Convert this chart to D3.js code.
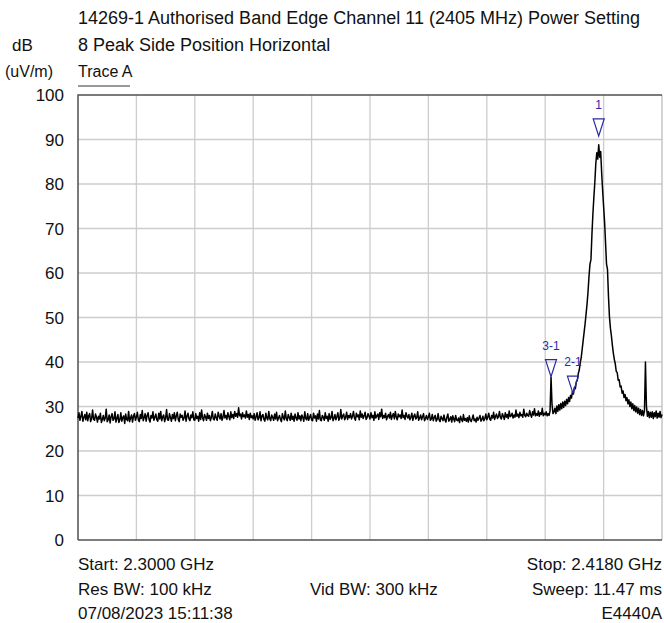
<!DOCTYPE html>
<html><head><meta charset="utf-8">
<script src="https://cdn.jsdelivr.net/npm/d3@7"></script>
<style>
body{margin:0;background:#fff}
svg{display:block}
text{font-family:"Liberation Sans",Arial,Helvetica,sans-serif;fill:#111}
</style>
</head><body>
<svg id="c" width="664" height="623"></svg>
<script>
// ---------- data ----------
const startGHz = 2.3;
const stopGHz = 2.418;
const yTicks = [0,10,20,30,40,50,60,70,80,90,100];
const titleLines = ["14269-1 Authorised Band Edge Channel 11 (2405 MHz) Power Setting",
                    "8 Peak Side Position Horizontal",
                    "Trace A"];
const unitLines = ["dB","(uV/m)"];
const footerLeft = ["Start: 2.3000 GHz","Res BW: 100 kHz","07/08/2023 15:11:38"];
const footerMid = ["","Vid BW: 300 kHz",""];
const footerRight = ["Stop: 2.4180 GHz","Sweep: 11.47 ms","E4440A"];
const markerLabels = ["1","2-1","3-1"];
const markerFreqs = [2.40521, 2.4000, 2.39557];
const markerLevels = [90.8, 33.0, 36.7];
// trace A, 601 sweep points, dB(uV/m)
const traceA = [
27.4,28.6,26.9,27.8,28.9,26.7,27.5,28.2,27.0,28.7,26.8,27.9,28.4,26.6,27.3,29.2,27.1,26.9,28.3,27.6,
26.5,27.8,27.2,28.5,26.4,27.1,28.0,26.8,27.4,29.4,26.6,27.0,28.1,26.3,27.7,28.4,26.9,27.2,28.8,26.5,
27.3,28.2,26.4,27.0,28.6,26.7,27.5,27.9,26.2,28.3,27.1,26.8,28.9,26.6,27.4,28.1,26.5,27.8,28.4,26.9,
27.6,28.7,27.0,26.6,28.2,27.3,29.1,26.8,27.5,28.4,26.7,27.9,28.6,27.1,26.5,28.0,27.4,28.8,26.9,27.6,
28.3,27.0,26.7,28.5,27.2,28.9,26.8,27.7,28.1,26.6,27.4,29.3,27.0,26.9,28.4,27.5,26.7,28.2,27.3,28.6,
26.8,27.9,28.7,27.1,26.6,28.3,27.6,28.0,26.9,27.4,29.0,26.7,27.8,28.5,27.2,26.8,28.1,27.5,28.8,27.0,
26.9,28.4,27.3,27.8,26.7,28.6,27.1,29.2,27.4,26.8,28.2,27.7,26.9,28.5,27.3,28.0,26.8,27.6,28.9,27.2,
27.0,28.3,27.5,26.9,28.7,27.8,27.2,28.4,26.9,27.6,29.1,27.4,28.0,27.1,28.6,27.7,27.0,28.8,27.5,28.2,
27.3,28.9,27.8,28.4,27.6,29.7,27.9,28.3,27.2,28.6,27.7,28.1,27.4,29.0,27.6,28.2,27.1,28.5,27.5,27.9,
27.2,28.4,26.9,27.7,28.6,27.0,27.5,28.8,26.8,27.9,28.2,27.1,26.7,28.5,27.4,27.0,28.9,27.3,26.8,28.1,
27.6,26.9,28.3,27.2,28.7,26.8,27.4,28.0,27.1,26.6,28.4,27.5,27.0,29.0,27.3,26.8,28.2,27.6,26.9,28.5,
27.1,27.8,26.7,28.3,27.4,26.9,28.6,27.2,27.9,26.8,28.1,27.5,26.7,28.8,27.3,27.0,28.4,26.9,27.6,28.2,
27.0,26.8,28.5,27.4,27.9,26.7,28.3,27.2,29.1,27.0,26.8,28.0,27.6,26.9,28.6,27.3,27.8,26.7,28.4,27.1,
27.5,28.9,26.8,27.3,28.2,27.0,27.7,28.6,26.9,27.4,29.3,27.2,27.9,28.3,27.0,27.6,28.7,27.1,28.0,27.5,
28.4,27.2,27.8,28.9,27.4,26.9,28.5,27.7,28.1,27.0,29.0,27.6,28.3,27.3,27.9,28.7,27.1,27.5,28.4,27.8,
27.2,28.6,27.5,28.0,26.9,28.8,27.4,27.9,28.3,27.1,28.6,27.7,29.4,27.3,28.0,27.5,28.5,27.0,27.8,28.2,
27.4,28.7,27.1,27.9,28.4,27.2,28.9,27.6,27.0,28.3,27.7,28.1,27.3,29.2,27.5,28.0,27.1,28.6,27.8,27.4,
28.2,27.0,27.6,28.5,26.9,27.8,28.3,27.2,27.5,28.8,26.9,27.4,28.1,27.0,27.7,28.4,26.8,27.3,28.0,27.1,
27.6,28.5,26.9,27.2,28.2,26.8,27.5,28.0,26.7,27.1,28.4,27.0,26.6,27.8,27.3,26.8,28.1,27.0,26.5,27.6,
28.3,26.7,27.1,27.7,26.5,27.9,27.2,26.6,28.0,27.0,26.8,27.4,26.4,27.8,27.1,26.6,28.2,26.9,27.3,26.7,
27.5,26.5,27.9,27.0,26.6,27.3,28.1,26.8,27.2,26.5,27.6,26.9,27.4,28.0,26.7,27.1,27.8,26.8,27.3,28.3,
27.0,27.6,28.5,27.2,26.9,28.0,27.4,28.7,27.1,27.8,28.3,27.3,27.7,28.9,27.5,27.2,28.4,27.8,27.1,28.6,
27.6,28.2,27.3,29.0,27.7,27.9,28.5,27.4,28.1,27.6,29.2,27.8,28.3,27.5,28.7,27.9,28.2,27.6,29.4,28.0,
27.7,28.5,28.0,27.8,29.1,28.2,27.6,28.8,28.1,29.5,27.9,28.4,28.0,29.0,27.8,28.6,28.2,29.6,27.9,28.5,
28.1,28.8,27.9,28.4,28.0,29.0,36.6,30.5,28.4,28.8,
29.6,28.4,30.1,28.9,30.4,29.2,30.7,29.5,31.0,29.8,
31.2,30.2,31.6,30.6,32.0,31.1,32.5,31.9,33.4,32.8,
34.3,34.0,35.6,35.9,37.4,38.2,39.8,41.0,42.9,44.8,
46.7,48.6,50.8,53.0,55.8,59.2,62.0,63.0,68.6,73.2,
77.0,80.4,84.6,87.0,85.6,88.8,86.0,87.3,82.6,78.6,
75.0,71.5,66.8,62.0,60.8,54.8,50.2,47.6,45.9,43.8,
42.0,40.6,39.6,37.9,37.6,35.9,36.0,34.4,34.6,33.0,
33.5,32.0,32.7,31.3,32.0,30.6,31.5,30.0,31.0,29.5,
30.6,29.1,30.2,28.8,29.9,28.5,29.6,28.2,29.3,28.0,
29.1,27.9,29.0,40.0,30.1,27.8,28.9,27.5,28.7,27.6,
28.8,27.3,28.6,27.7,29.0,27.4,28.5,27.6,28.9,27.5,28.2
];

// ---------- layout ----------
const W = 664, H = 623;
const L = 78, R = 662, T = 95, B = 540;
const FS = 17;
const svg = d3.select("#c");
svg.append("rect").attr("width", W).attr("height", H).attr("fill", "#fff");

const x = d3.scaleLinear().domain([startGHz, stopGHz]).range([L, R]);
const y = d3.scaleLinear().domain([0, 100]).range([B, T]);

// grid
const nDiv = 10;
const gridF = d3.range(nDiv + 1).map(k => startGHz + k * (stopGHz - startGHz) / nDiv);
svg.append("g").selectAll("line").data(gridF.slice(1, -1)).join("line")
  .attr("x1", d => x(d)).attr("x2", d => x(d)).attr("y1", T).attr("y2", B)
  .attr("stroke", "#cccccc").attr("stroke-width", 1.3);
svg.append("g").selectAll("line").data(yTicks.slice(1, -1)).join("line")
  .attr("x1", L).attr("x2", R).attr("y1", d => y(d)).attr("y2", d => y(d))
  .attr("stroke", "#cccccc").attr("stroke-width", 1.3);

// frame
svg.append("line").attr("x1", R).attr("x2", R).attr("y1", T).attr("y2", B).attr("stroke", "#bdbdbd").attr("stroke-width", 1.3);
svg.append("path").attr("d", `M${L},${B}V${T}H${R}`).attr("fill", "none").attr("stroke", "#505050").attr("stroke-width", 1.5);
svg.append("line").attr("x1", L).attr("x2", R).attr("y1", B).attr("y2", B).attr("stroke", "#505050").attr("stroke-width", 1.5);

// y tick labels
svg.append("g").selectAll("text").data(yTicks).join("text")
  .attr("x", 64).attr("y", d => y(d)).attr("dy", "0.36em")
  .attr("text-anchor", "end").attr("font-size", FS).text(d => d);

// trace
const nPts = traceA.length;
const freqAt = i => startGHz + i * (stopGHz - startGHz) / (nPts - 1);
const line = d3.line().x((d, i) => x(freqAt(i))).y(d => y(d));
svg.append("path").datum(traceA).attr("d", line)
  .attr("fill", "none").attr("stroke", "#000").attr("stroke-width", 1.5).attr("stroke-linejoin", "round");

// markers
const mColor = "#2a2aa8";
const mk = svg.append("g");
markerLabels.forEach((lab, k) => {
  const mx = x(markerFreqs[k]), my = y(markerLevels[k]);
  mk.append("path").attr("d", `M${mx - 5.5},${my - 17}H${mx + 5.5}L${mx},${my}Z`)
    .attr("fill", "none").attr("stroke", mColor).attr("stroke-width", 1.2);
  mk.append("text").attr("x", mx).attr("y", my - 27).attr("text-anchor", "middle")
    .attr("font-size", 12).style("fill", mColor).text(lab);
});

// header
svg.append("text").attr("x", L).attr("y", 24).attr("font-size", 18).text(titleLines[0]);
svg.append("text").attr("x", L).attr("y", 51).attr("font-size", 18).text(titleLines[1]);
svg.append("text").attr("x", L).attr("y", 77).attr("font-size", 16).text(titleLines[2]);
svg.append("text").attr("x", 12).attr("y", 51).attr("font-size", FS).text(unitLines[0]);
svg.append("text").attr("x", 5).attr("y", 77).attr("font-size", 16).text(unitLines[1]);
svg.append("line").attr("x1", L).attr("x2", 130).attr("y1", 86).attr("y2", 86).attr("stroke", "#777").attr("stroke-width", 1.5);

// footer
const fy = [570, 595, 619];
footerLeft.forEach((t, k) => svg.append("text").attr("x", L).attr("y", fy[k]).attr("font-size", FS).text(t));
footerMid.forEach((t, k) => svg.append("text").attr("x", 310).attr("y", fy[k]).attr("font-size", FS).text(t));
footerRight.forEach((t, k) => svg.append("text").attr("x", R).attr("y", fy[k]).attr("text-anchor", "end").attr("font-size", FS).text(t));
</script>
</body></html>
